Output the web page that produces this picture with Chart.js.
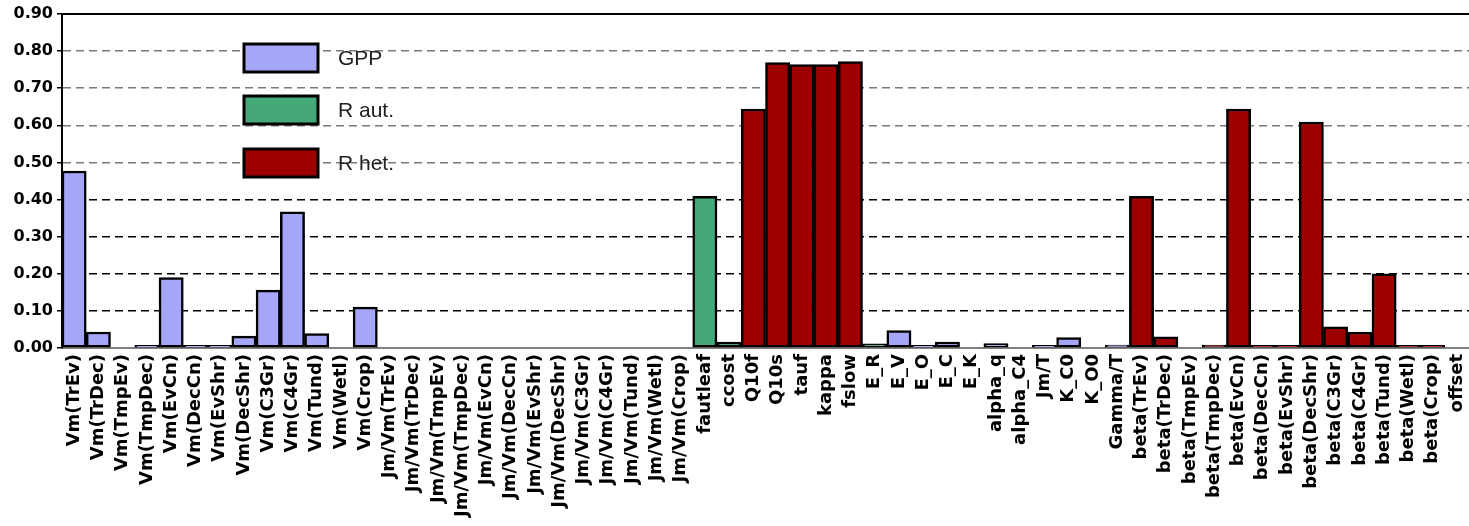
<!DOCTYPE html>
<html>
<head>
<meta charset="utf-8">
<script src="https://cdn.jsdelivr.net/npm/chart.js@4.4.1/dist/chart.umd.min.js"></script>
<style>
  html, body { margin: 0; padding: 0; background: #fff; }
  #wrap { width: 1469px; height: 526px; }
</style>
</head>
<body>
<div id="wrap"><canvas id="myChart" width="1469" height="526"></canvas></div>
<script>
var categories = ['Vm(TrEv)', 'Vm(TrDec)', 'Vm(TmpEv)', 'Vm(TmpDec)', 'Vm(EvCn)', 'Vm(DecCn)', 'Vm(EvShr)', 'Vm(DecShr)', 'Vm(C3Gr)', 'Vm(C4Gr)', 'Vm(Tund)', 'Vm(Wetl)', 'Vm(Crop)',
    'Jm/Vm(TrEv)', 'Jm/Vm(TrDec)', 'Jm/Vm(TmpEv)', 'Jm/Vm(TmpDec)', 'Jm/Vm(EvCn)', 'Jm/Vm(DecCn)', 'Jm/Vm(EvShr)', 'Jm/Vm(DecShr)', 'Jm/Vm(C3Gr)', 'Jm/Vm(C4Gr)', 'Jm/Vm(Tund)', 'Jm/Vm(Wetl)', 'Jm/Vm(Crop)',
    'fautleaf', 'ccost', 'Q10f', 'Q10s', 'tauf', 'kappa', 'fslow',
    'E_R', 'E_V', 'E_O', 'E_C', 'E_K', 'alpha_q', 'alpha_C4', 'Jm/T', 'K_C0', 'K_O0', 'Gamma/T',
    'beta(TrEv)', 'beta(TrDec)', 'beta(TmpEv)', 'beta(TmpDec)', 'beta(EvCn)', 'beta(DecCn)', 'beta(EvShr)', 'beta(DecShr)', 'beta(C3Gr)', 'beta(C4Gr)', 'beta(Tund)', 'beta(Wetl)', 'beta(Crop)', 'offset'];

// GPP parameters (null = belongs to another group)
var gppValues = [0.477, 0.043, 0, 0.007, 0.19, 0.007, 0.007, 0.032, 0.156, 0.367, 0.039, 0, 0.11,
    0, 0, 0, 0, 0, 0, 0, 0, 0, 0, 0, 0, 0,
    null, null, null, null, null, null, null,
    null, 0.047, 0.007, 0.016, 0, 0.012, 0, 0.007, 0.028, 0, 0.008,
    null, null, null, null, null, null, null, null, null, null, null, null, null, null];

var rautValues = [null, null, null, null, null, null, null, null, null, null, null, null, null,
    null, null, null, null, null, null, null, null, null, null, null, null, null,
    0.409, 0.016, null, null, null, null, null,
    0.011, null, null, null, null, null, null, null, null, null, null,
    null, null, null, null, null, null, null, null, null, null, null, null, null, null];

var rhetValues = [null, null, null, null, null, null, null, null, null, null, null, null, null,
    null, null, null, null, null, null, null, null, null, null, null, null, null,
    null, null, 0.644, 0.769, 0.764, 0.764, 0.772,
    null, null, null, null, null, null, null, null, null, null, null,
    0.409, 0.03, 0, 0.008, 0.644, 0.007, 0.007, 0.609, 0.057, 0.043, 0.2, 0.007, 0.007, 0];

var yTicks = [0, 0.1, 0.2, 0.3, 0.4, 0.5, 0.6, 0.7, 0.8, 0.9];

// legend drawn inside the plot area, like the original
var boxLegend = {
    id: 'boxLegend',
    afterDatasetsDraw: function(chart) {
        var ctx = chart.ctx;
        var area = chart.chartArea;
        ctx.save();
        // solid top line at 0.90
        ctx.strokeStyle = '#000';
        ctx.lineWidth = 2;
        ctx.beginPath();
        ctx.moveTo(area.left, area.top);
        ctx.lineTo(chart.width, area.top);
        ctx.stroke();

        var ys = [44, 96, 149];
        chart.data.datasets.forEach(function(ds, i) {
            ctx.fillStyle = ds.backgroundColor;
            ctx.fillRect(244, ys[i], 74, 28);
            ctx.lineWidth = 3;
            ctx.strokeStyle = '#000';
            ctx.strokeRect(244, ys[i], 74, 28);
            ctx.fillStyle = '#222';
            ctx.font = '21px "Liberation Sans", Arial, sans-serif';
            ctx.textBaseline = 'middle';
            ctx.textAlign = 'left';
            ctx.fillText(ds.label, 338, ys[i] + 15);
        });
        ctx.restore();
    }
};

var ctx = document.getElementById('myChart').getContext('2d');
var myChart = new Chart(ctx, {
    type: 'bar',
    data: {
        labels: categories,
        datasets: [{
            label: 'GPP',
            data: gppValues,
            backgroundColor: '#A6A6F8'
        },
        {
            label: 'R aut.',
            data: rautValues,
            backgroundColor: '#45A878'
        },
        {
            label: 'R het.',
            data: rhetValues,
            backgroundColor: '#9C0000'
        }]
    },
    options: {
        responsive: false,
        animation: false,
        layout: { padding: { top: 14, right: 0, left: 0, bottom: 0 } },
        datasets: {
            bar: {
                grouped: false,
                barPercentage: 1,
                categoryPercentage: 1,
                borderColor: '#000',
                borderWidth: 2.5,
                borderSkipped: false
            }
        },
        plugins: {
            legend: { display: false },
            tooltip: { enabled: false }
        },
        scales: {
            x: {
                grid: { display: false, drawTicks: false },
                border: { display: true, color: '#808080', width: 2 },
                ticks: {
                    autoSkip: false,
                    minRotation: 90,
                    maxRotation: 90,
                    padding: 6,
                    color: '#000',
                    font: { family: '"DejaVu Sans", sans-serif', size: 18, weight: 'bold' }
                },
                afterFit: function(scale) {
                    scale.height = 178;
                    scale.paddingLeft = 0;
                    scale.paddingRight = 0;
                }
            },
            y: {
                min: 0,
                max: 0.9,
                afterBuildTicks: function(scale) {
                    scale.ticks = yTicks.map(function(v) { return { value: v }; });
                },
                grid: {
                    color: function(c) {
                        var v = c.tick ? c.tick.value : 0;
                        if (v < 0.05 || v > 0.85) return 'rgba(0,0,0,0)';
                        return v > 0.45 ? '#7a7a7a' : '#000';
                    },
                    lineWidth: 1.5,
                    tickColor: '#000',
                    tickLength: 5,
                    tickWidth: 1.5
                },
                border: { display: true, color: '#000', width: 2, dash: [8, 5] },
                ticks: {
                    padding: 4,
                    color: '#000',
                    font: { family: '"DejaVu Sans", sans-serif', size: 16, weight: 'bold' },
                    callback: function(v) { return Number(v).toFixed(2); }
                },
                afterFit: function(scale) {
                    scale.width = 62;
                    scale.paddingTop = 0;
                    scale.paddingBottom = 0;
                }
            }
        }
    },
    plugins: [boxLegend]
});
</script>
</body>
</html>
